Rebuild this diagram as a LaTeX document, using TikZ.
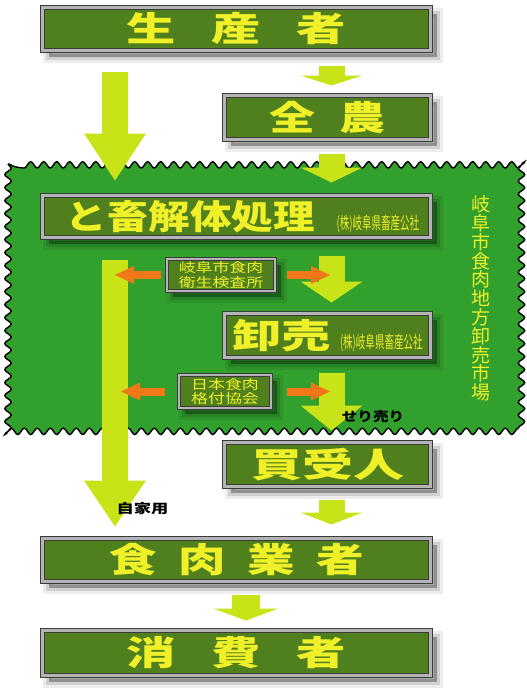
\documentclass[tikz,border=0pt]{standalone}
\usepackage{fontspec,graphicx}
\usetikzlibrary{arrows.meta,decorations.pathmorphing}
\newfontfamily\jp{Noto Sans CJK JP}
\definecolor{boxgreen}{RGB}{80,128,30}
\definecolor{marketgreen}{RGB}{50,160,45}
\definecolor{flowlime}{RGB}{200,228,25}
\definecolor{checkorange}{RGB}{240,120,25}
\definecolor{labelyellow}{RGB}{240,240,40}
\definecolor{framedark}{RGB}{60,60,60}
\definecolor{framegray}{RGB}{180,180,180}
\newcommand{\wide}[2]{\scalebox{#1}[1]{#2}}
\newcommand{\firmfont}{\mdseries\fontsize{17}{17}\selectfont}

\begin{document}
\begin{tikzpicture}[x=1pt,y=-1pt,
    every node/.style={inner sep=0pt,text=labelyellow},
    framed/.style 2 args={fill=boxgreen,draw=framedark,line width=#1,
      preaction={fill=black,opacity=.3,transform canvas={shift={(6pt,-6pt)}}},
      preaction={draw=black,opacity=.12,line width=6pt,transform canvas={shift={(6pt,-6pt)}}},
      preaction={draw=black,opacity=.07,line width=12pt,transform canvas={shift={(6pt,-6pt)}}},
      postaction={draw=framegray,line width=#2}},
    stagebox/.style={framed={5pt}{3pt},font=\jp\bfseries\fontsize{34}{34}\selectfont},
    smallbox/.style={framed={4pt}{2pt},align=center,font=\jp\fontsize{13}{14.5}\selectfont},
    notetext/.style={text=black,font=\jp\bfseries\fontsize{13}{13}\selectfont},
    flow/.style={draw=flowlime,line width=26pt,-{Triangle[width=62pt,length=#1,line width=0pt]}},
    check/.style={draw=checkorange,line width=8pt,-{Triangle[width=18pt,length=19pt,line width=0pt]}}]
  \useasboundingbox (0,0) rectangle (527,696);
  \fill[white] (0,0) rectangle (527,696);
  % market area
  \draw[decorate,decoration={snake,segment length=13pt,amplitude=3.2pt},
    fill=marketgreen,draw=black,line width=1.4pt] (8,164) rectangle (519,431);
  % stages
  \node[stagebox,minimum width=388pt,minimum height=43pt] (seisan) at (236.5,29)
    {\wide{1.45}{生\hspace{24.6pt}産\hspace{24.6pt}者}};
  \node[stagebox,minimum width=206pt,minimum height=44pt] (zennoh) at (327.5,117.5)
    {\wide{1.35}{全\hspace{18pt}農}};
  \node[stagebox,minimum width=388pt,minimum height=42pt] (tochiku) at (236.5,216.5)
    {\hspace{12pt}\wide{1.22}{と畜解体処理}\hspace{22pt}{\firmfont\wide{0.56}{(株)岐阜県畜産公社}}};
  \node[stagebox,minimum width=206pt,minimum height=44pt] (oroshi) at (327.5,335.5)
    {\wide{1.45}{卸売}\hspace{9pt}{\firmfont\wide{0.56}{(株)岐阜県畜産公社}}};
  \node[stagebox,minimum width=206pt,minimum height=44pt] (kaiuke) at (327.5,464.5)
    {\wide{1.5}{買受人}};
  \node[stagebox,minimum width=388pt,minimum height=43pt] (gyosha) at (236.5,560)
    {\wide{1.4}{食\hspace{15.3pt}肉\hspace{15.3pt}業\hspace{15.3pt}者}};
  \node[stagebox,minimum width=388pt,minimum height=45pt] (shohi) at (236.5,653)
    {\wide{1.45}{消\hspace{24.6pt}費\hspace{24.6pt}者}};
  % inspection offices
  \node[smallbox,minimum width=108pt,minimum height=32pt] (kensa) at (221,275)
    {\wide{1.3}{岐阜市食肉}\\\wide{1.3}{衛生検査所}};
  \node[smallbox,minimum width=92pt,minimum height=33pt] (kakuzuke) at (225,391.5)
    {\wide{1.3}{日本食肉}\\\wide{1.3}{格付協会}};
  % market name
  \node[font=\jp\fontsize{19}{18.8}\selectfont,align=center] (ichiba) at (481,298.5)
    {岐\\阜\\市\\食\\肉\\地\\方\\卸\\売\\市\\場};
  % columns
  \coordinate (lcol) at (115,0);
  \coordinate (rcol) at (331.5,0);
  \coordinate (mcol) at (246,0);
  % flow arrows
  \draw[flow=47pt,shorten <=18.5pt,shorten >=12.5pt] (lcol |- seisan.south) -- (lcol |- tochiku.north);
  \draw[flow=10pt,shorten <=12.5pt,shorten >=7.5pt] (rcol |- seisan.south) -- (rcol |- zennoh.north);
  \draw[flow=15pt,shorten <=11.5pt,shorten >=10.5pt] (rcol |- zennoh.south) -- (rcol |- tochiku.north);
  \draw[flow=46pt,shorten <=19.5pt,shorten >=9.5pt] (lcol |- tochiku.south) -- (lcol |- gyosha.north);
  \draw[flow=21pt,shorten <=15.5pt,shorten >=8.5pt] (rcol |- tochiku.south) -- (rcol |- oroshi.north);
  \draw[flow=25pt,shorten <=12.5pt,shorten >=9.5pt] (rcol |- oroshi.south) -- (rcol |- kaiuke.north);
  \draw[flow=12pt,shorten <=10.5pt,shorten >=11.5pt] (rcol |- kaiuke.south) -- (rcol |- gyosha.north);
  \draw[flow=12pt,line width=28pt,-{Triangle[width=65pt,length=12pt,line width=0pt]},
    shorten <=10.5pt,shorten >=7.5pt] (mcol |- gyosha.south) -- (mcol |- shohi.north);
  % inspection arrows
  \draw[check,shorten <=4pt] (kensa.west) -- (lcol |- kensa.west);
  \draw[check,shorten <=10pt,shorten >=1.5pt] (kensa.east) -- (rcol |- kensa.east);
  \draw[check,shorten <=12pt,shorten >=6pt] (kakuzuke.west) -- (lcol |- kakuzuke.west);
  \draw[check,shorten <=14pt,shorten >=1.5pt] (kakuzuke.east) -- (rcol |- kakuzuke.east);
  % notes
  \node[notetext] (seri) at (373,416.5) {\wide{1.2}{せり売り}};
  \node[notetext] (jika) at (142.5,509) {\wide{1.33}{自家用}};
\end{tikzpicture}
\end{document}
